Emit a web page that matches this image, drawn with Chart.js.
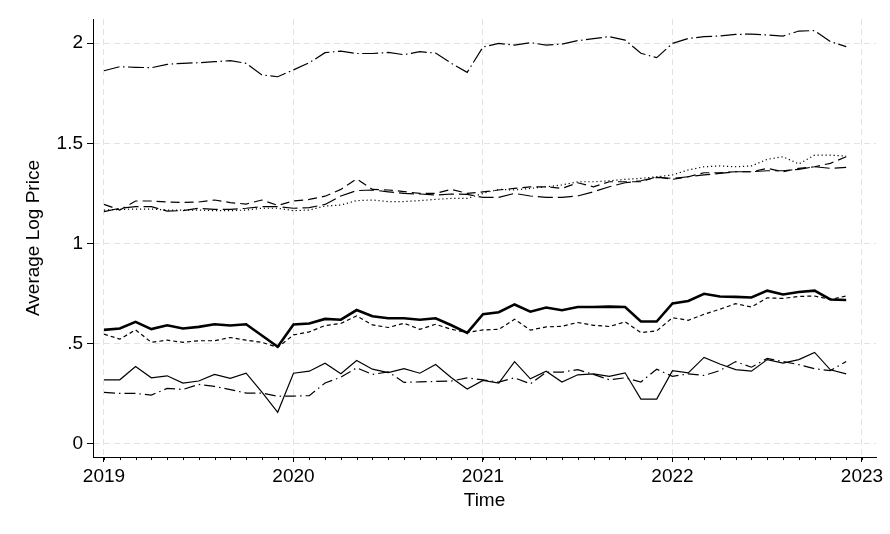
<!DOCTYPE html>
<html>
<head>
<meta charset="utf-8">
<script src="https://cdn.jsdelivr.net/npm/chart.js@4.4.1/dist/chart.umd.min.js"></script>
<style>
html,body{margin:0;padding:0;background:#fff}
#wrap{width:890px;height:534px}
</style>
</head>
<body>
<div id="wrap"><canvas id="c"></canvas></div>
<script>
// monthly averages 2019m1 - 2022m12
const startYear=2019
const yearTicks=[2019,2020,2021,2022,2023]
const yTicks=[0,0.5,1,1.5,2]
const yTickLabels=["0",".5","1","1.5","2"]

const seriesTop=[1.862,1.882,1.879,1.877,1.894,1.899,1.902,1.907,1.912,1.899,1.841,1.832,1.866,1.902,1.952,1.960,1.948,1.948,1.953,1.942,1.957,1.950,1.899,1.854,
1.980,1.998,1.990,2.002,1.990,1.995,2.012,2.022,2.032,2.015,1.949,1.927,1.998,2.023,2.032,2.035,2.043,2.045,2.040,2.035,2.060,2.062,2.007,1.982]
const seriesDot=[1.167,1.170,1.172,1.172,1.167,1.167,1.167,1.164,1.164,1.167,1.176,1.176,1.164,1.167,1.187,1.192,1.214,1.217,1.209,1.209,1.214,1.220,1.225,1.225,
1.250,1.270,1.267,1.275,1.283,1.292,1.308,1.308,1.313,1.320,1.325,1.333,1.342,1.367,1.383,1.387,1.383,1.387,1.420,1.433,1.397,1.441,1.441,1.436]
const seriesDash=[1.195,1.167,1.212,1.212,1.207,1.205,1.207,1.217,1.204,1.197,1.217,1.190,1.212,1.220,1.236,1.270,1.323,1.270,1.267,1.259,1.250,1.250,1.270,1.250,
1.258,1.267,1.275,1.283,1.283,1.275,1.303,1.283,1.308,1.308,1.308,1.333,1.320,1.333,1.353,1.353,1.358,1.358,1.375,1.358,1.375,1.383,1.400,1.433]
const seriesLongDash=[1.159,1.176,1.184,1.184,1.162,1.164,1.176,1.170,1.170,1.176,1.184,1.184,1.176,1.179,1.195,1.237,1.264,1.267,1.258,1.250,1.247,1.242,1.247,1.245,
1.230,1.230,1.250,1.237,1.230,1.230,1.237,1.258,1.283,1.303,1.313,1.330,1.325,1.333,1.342,1.350,1.358,1.358,1.363,1.363,1.370,1.383,1.375,1.380]
const seriesThick=[0.569,0.576,0.609,0.573,0.592,0.576,0.584,0.597,0.591,0.597,0.541,0.485,0.596,0.601,0.624,0.620,0.668,0.637,0.627,0.627,0.620,0.627,0.592,0.554,
0.647,0.657,0.696,0.660,0.681,0.667,0.683,0.683,0.685,0.683,0.611,0.611,0.701,0.713,0.749,0.736,0.734,0.731,0.765,0.746,0.758,0.765,0.721,0.718]
const seriesShortDash=[0.548,0.523,0.569,0.507,0.518,0.507,0.515,0.515,0.531,0.518,0.507,0.482,0.544,0.559,0.591,0.601,0.639,0.594,0.581,0.602,0.572,0.597,0.572,0.556,
0.569,0.572,0.622,0.568,0.584,0.587,0.606,0.592,0.586,0.609,0.556,0.564,0.630,0.617,0.647,0.672,0.700,0.683,0.729,0.726,0.736,0.738,0.721,0.738]
const seriesThin=[0.320,0.320,0.386,0.330,0.340,0.304,0.314,0.347,0.327,0.353,0.259,0.158,0.353,0.363,0.403,0.350,0.416,0.373,0.356,0.376,0.353,0.396,0.330,0.274,
0.317,0.304,0.411,0.325,0.363,0.309,0.345,0.350,0.337,0.355,0.224,0.224,0.366,0.355,0.432,0.399,0.371,0.363,0.421,0.403,0.421,0.457,0.370,0.350]
const seriesDashDot=[0.257,0.252,0.252,0.244,0.277,0.272,0.297,0.287,0.271,0.254,0.254,0.238,0.239,0.241,0.304,0.333,0.380,0.347,0.360,0.307,0.310,0.312,0.314,0.330,
0.320,0.309,0.330,0.300,0.358,0.358,0.371,0.347,0.320,0.330,0.309,0.373,0.337,0.350,0.342,0.366,0.411,0.383,0.427,0.411,0.396,0.375,0.366,0.411]

const font={family:"'Liberation Sans', Arial, sans-serif",size:19}

function pts(list){
return list.map((v,i)=>({x:startYear+i/12,y:v}))
}

function line(list,dash,width){
return {
data:pts(list),
borderColor:"#000",
borderWidth:width||1.2,
borderDash:dash,
pointRadius:0,
tension:0,
fill:false
}
}

const minorTicks={
id:"minorTicks",
afterDraw(chart){
const sx=chart.scales.x
const ctx=chart.ctx
const y0=chart.chartArea.bottom
ctx.save()
ctx.strokeStyle="#000"
ctx.lineWidth=1
for(let m=0;m<=48;m++){
const px=Math.round(sx.getPixelForValue(startYear+m/12))+0.5
ctx.beginPath()
ctx.moveTo(px,y0)
ctx.lineTo(px,y0+3)
ctx.stroke()
}
ctx.restore()
}
}

new Chart(document.getElementById("c"),{
type:"line",
data:{
datasets:[
line(seriesTop,[16,3.5,1.5,3.5]),
line(seriesDot,[1.2,2.8]),
line(seriesDash,[9,5]),
line(seriesLongDash,[15,5]),
line(seriesThick,[],2.6),
line(seriesShortDash,[4,3]),
line(seriesThin,[]),
line(seriesDashDot,[11,4,1.5,4])
]
},
options:{
responsive:true,
maintainAspectRatio:false,
animation:false,
layout:{padding:{left:0,right:14,top:19,bottom:0}},
plugins:{legend:{display:false},tooltip:{enabled:false}},
scales:{
x:{
type:"linear",
min:2018.942,
max:2023.074,
afterBuildTicks:s=>{s.ticks=yearTicks.map(v=>({value:v}))},
afterFit:s=>{s.height=77},
ticks:{color:"#000",font:font,padding:3,maxRotation:0,callback:v=>String(v)},
grid:{color:"#e3e3e3",lineWidth:1,tickLength:5,tickColor:"#000",tickBorderDash:[]},
border:{color:"#000",width:1,dash:[6,4]},
title:{display:true,text:"Time",color:"#000",font:font,padding:{top:0,bottom:22}}
},
y:{
min:-0.065,
max:2.12,
afterBuildTicks:s=>{s.ticks=yTicks.map(v=>({value:v}))},
afterFit:s=>{s.width=93},
ticks:{color:"#000",font:font,padding:4,callback:v=>yTickLabels[yTicks.indexOf(v)]},
grid:{color:"#e3e3e3",lineWidth:1,tickLength:6,tickColor:"#000",tickBorderDash:[]},
border:{color:"#000",width:1,dash:[6,4]},
title:{display:true,text:"Average Log Price",color:"#000",font:font,padding:{top:22,bottom:0}}
}
}
},
plugins:[minorTicks]
})
</script>
</body>
</html>
